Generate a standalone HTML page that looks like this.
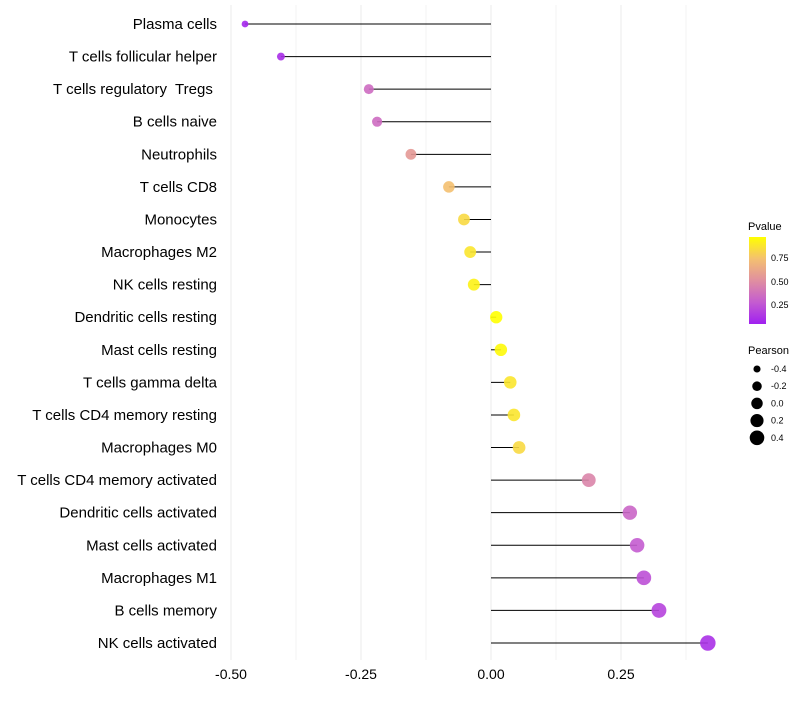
<!DOCTYPE html>
<html><head><meta charset="utf-8"><style>
body{margin:0;background:#fff;font-family:"Liberation Sans",sans-serif}
text{white-space:pre}
</style></head><body>
<svg id="chart" width="800" height="700" xmlns="http://www.w3.org/2000/svg">
<defs><linearGradient id="pg" x1="0" y1="1" x2="0" y2="0">
<stop offset="0" stop-color="#a020f0"/><stop offset="0.25" stop-color="#c45cd0"/><stop offset="0.5" stop-color="#e08fa0"/><stop offset="0.75" stop-color="#f4c070"/><stop offset="1" stop-color="#ffff00"/></linearGradient></defs>
<g id="grid"></g><g id="marks"></g><g id="ylabels"></g><g id="xlabels"></g>
<g>
<text x="748" y="230" font-size="11" fill="#000">Pvalue</text>
<rect x="749" y="237" width="17" height="87" fill="url(#pg)"/>
<text x="771" y="261" font-size="9">0.75</text><text x="771" y="285" font-size="9">0.50</text><text x="771" y="308" font-size="9">0.25</text>
</g>
<g id="sizeLegend">
<text x="748" y="354" font-size="11">Pearson</text>
</g>
</svg>
<script>
const categories=["Plasma cells","T cells follicular helper","T cells regulatory  Tregs ","B cells naive","Neutrophils","T cells CD8","Monocytes","Macrophages M2","NK cells resting","Dendritic cells resting","Mast cells resting","T cells gamma delta","T cells CD4 memory resting","Macrophages M0","T cells CD4 memory activated","Dendritic cells activated","Mast cells activated","Macrophages M1","B cells memory","NK cells activated"];
const pearson=[-0.473,-0.404,-0.235,-0.219,-0.154,-0.081,-0.052,-0.040,-0.033,0.010,0.019,0.037,0.044,0.054,0.188,0.267,0.281,0.294,0.323,0.417];
const pvalue=[0.03,0.06,0.33,0.33,0.55,0.75,0.85,0.9,0.95,1.0,0.98,0.9,0.9,0.85,0.45,0.3,0.25,0.2,0.15,0.07];
const xTicks=[-0.5,-0.25,0,0.25];
const xTickLabels=["-0.50","-0.25","0.00","0.25"];
const sizeLegendValues=[-0.4,-0.2,0,0.2,0.4];
const sizeLegendLabels=["-0.4","-0.2","0.0","0.2","0.4"];
const NS="http://www.w3.org/2000/svg";
const x=v=>491+v*520;
const y=i=>24+i*(643-24)/19;
const pmin=Math.min(...pearson),pmax=Math.max(...pearson);
const r=v=>3.0*Math.sqrt(1+5*Math.max(0,(v-pmin)/(pmax-pmin)));
const stops=[[0,[160,32,240]],[0.25,[196,92,208]],[0.5,[224,143,160]],[0.75,[244,192,112]],[1,[255,255,0]]];
function col(p){p=Math.max(0,Math.min(1,p));for(let k=1;k<stops.length;k++){if(p<=stops[k][0]){const a=stops[k-1],b=stops[k],t=(p-a[0])/(b[0]-a[0]);return 'rgb('+a[1].map((c,j)=>Math.round(c+(b[1][j]-c)*t)).join(',')+')';}}}
function mk(t,at,parent){const e=document.createElementNS(NS,t);for(const k in at)e.setAttribute(k,at[k]);parent.appendChild(e);return e;}
const grid=document.getElementById('grid'),marks=document.getElementById('marks'),yl=document.getElementById('ylabels'),xl=document.getElementById('xlabels');
for(let g=-0.5;g<=0.375+1e-9;g+=0.125){const l=mk('line',{x1:x(g),x2:x(g),y1:5,y2:660,stroke:'#ebebeb','stroke-width':g%0.25===0?1:0.6},grid);

}
xTicks.forEach((v,i)=>{const t=mk('text',{x:x(v),y:679,'font-size':14,'text-anchor':'middle',fill:'#000'},xl);t.textContent=xTickLabels[i];

});
categories.forEach((c,i)=>{const t=mk('text',{x:217,y:y(i)+5,'font-size':15,'text-anchor':'end',fill:'#000'},yl);t.textContent=c;


const s=mk('line',{x1:x(0),x2:x(pearson[i]),y1:y(i),y2:y(i),stroke:'#000','stroke-width':1},marks);


const p=mk('circle',{cx:x(pearson[i]),cy:y(i),r:r(pearson[i])+0.4,fill:col(pvalue[i]),'fill-opacity':0.9},marks);

});
const sl=document.getElementById('sizeLegend');
sizeLegendValues.forEach((v,i)=>{const cy=369+i*17.2;const c=mk('circle',{cx:757,cy:cy,r:r(v),fill:'#000'},sl);


const t=mk('text',{x:771,y:cy+3,'font-size':9},sl);t.textContent=sizeLegendLabels[i];

});
</script>
</body></html>
